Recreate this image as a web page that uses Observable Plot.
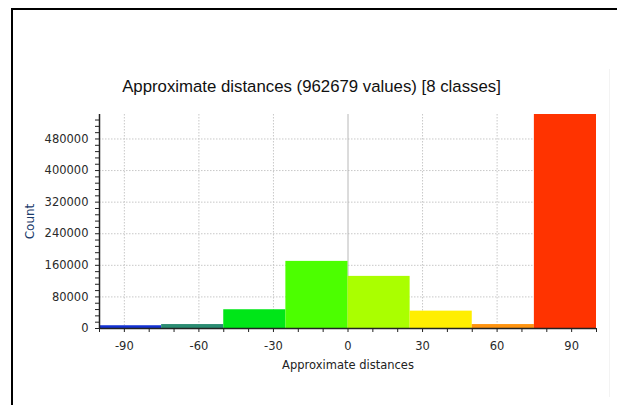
<!DOCTYPE html>
<html>
<head>
<meta charset="utf-8">
<script src="https://cdn.jsdelivr.net/npm/d3@7"></script>
<script src="https://cdn.jsdelivr.net/npm/@observablehq/plot@0.6"></script>
<style>
  html, body { margin: 0; padding: 0; background: #fff; }
  #wrap { position: relative; width: 617px; height: 405px; overflow: hidden; }
  #frame { position: absolute; left: 11px; top: 8px; width: 700px; height: 500px;
           border-top: 2px solid #000; border-left: 2px solid #000; box-sizing: border-box; }
  #faint { position: absolute; left: 609px; top: 69px; width: 1px; height: 328px; background: #f3f3f3; }
  #chart { position: absolute; left: 0; top: 0; }
</style>
</head>
<body>
<div id="wrap">
  <div id="frame"></div>
  <div id="faint"></div>
  <div id="chart"></div>
</div>
<script>
const title = "Approximate distances (962679 values) [8 classes]";
const xLabel = "Approximate distances";
const yLabel = "Count";
const binStart = [-100, -75, -50, -25, 0, 25, 50, 75];
const binEnd   = [-75, -50, -25, 0, 25, 50, 75, 100];
const counts   = [7000, 10000, 47500, 170000, 132000, 44000, 10000, 542000];
const colors   = ["#1432d2", "#2a8c72", "#00e618", "#4cff00", "#aaff00", "#ffee00", "#ff9410", "#ff3300"];
const xTicks = d3.range(-100, 101, 10);
const xLabeled = [-90, -60, -30, 0, 30, 60, 90];
const yTicks = d3.range(0, 542001, 16000);
const yLabeled = [0, 80000, 160000, 240000, 320000, 400000, 480000];

const bins = binStart.map((s, i) => ({x1: s, x2: binEnd[i], count: counts[i], color: colors[i]}));

const plot = Plot.plot({
  width: 617,
  height: 405,
  marginLeft: 99,
  marginRight: 21,
  marginTop: 114,
  marginBottom: 77,
  style: {fontFamily: "'DejaVu Sans', sans-serif", fontSize: "11.5px", background: "transparent", color: "#333"},
  x: {domain: [-100, 100]},
  y: {domain: [0, 542000]},
  marks: [
    Plot.gridY(yLabeled.filter(d => d > 0), {stroke: "#c8c8c8", strokeOpacity: 1, strokeDasharray: "1.5,1.5"}),
    Plot.gridX(xLabeled.filter(d => d !== 0), {stroke: "#c8c8c8", strokeOpacity: 1, strokeDasharray: "1.5,1.5"}),
    Plot.ruleX([0], {stroke: "#b8b8b8"}),
    Plot.rectY(bins, {x1: "x1", x2: "x2", y: "count", fill: "color", inset: 0}),
    Plot.ruleY([0], {stroke: "#222", strokeWidth: 1.5}),
    Plot.ruleX([-100], {stroke: "#222", strokeWidth: 1.5}),
    Plot.axisX({ticks: xTicks, tickSize: 4, tickPadding: 9, stroke: "#222",
      tickFormat: d => xLabeled.includes(d) ? String(d) : "", label: null, fill: "#2a2a2a"}),
    Plot.axisY({ticks: yTicks, tickSize: 4, tickPadding: 7, stroke: "#222",
      tickFormat: d => yLabeled.includes(d) ? String(d) : "", label: null, fill: "#2a2a2a"}),
    Plot.text([xLabel], {frameAnchor: "bottom", dy: 37, lineAnchor: "middle", fill: "#222", fontSize: 11.5}),
    Plot.text([yLabel], {frameAnchor: "left", dx: -69, rotate: -90, textAnchor: "middle", lineAnchor: "middle", fill: "#1a3a6a", fontSize: 12}),
    Plot.text([title], {frameAnchor: "top-left", dx: 212, dy: -28, textAnchor: "middle", lineAnchor: "middle",
      fontSize: 16.8, fill: "#111", fontFamily: "'Liberation Sans', Arial, sans-serif"})
  ]
});
document.getElementById("chart").appendChild(plot);
</script>
</body>
</html>
